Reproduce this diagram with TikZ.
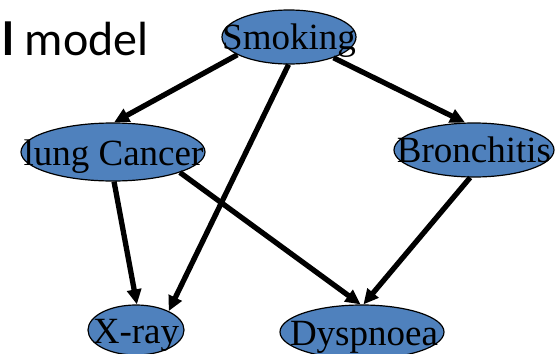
\documentclass[tikz,border=0pt]{standalone}
\usepackage{fontspec}
\setmainfont{Liberation Serif}
\newfontfamily\slidefont{Carlito}
\usetikzlibrary{shapes.geometric,arrows.meta}
\definecolor{nodeblue}{RGB}{79,129,189}
\begin{document}
\begin{tikzpicture}[x=1pt,y=-1pt,
  var/.style={ellipse,draw=black,line width=1.2pt,fill=nodeblue,inner sep=0pt},
  lbl/.style={anchor=base,inner sep=0pt,font=\fontsize{37}{40}\selectfont},
  edge/.style={line width=5.3pt,-{Triangle[length=15pt,width=14pt]}}]
\useasboundingbox (0,0) rectangle (558,354);
\clip (0,0) rectangle (558,354);

% title fragment
\node[anchor=base west,inner sep=0pt,font=\slidefont\fontsize{48}{52}\selectfont] (title) at (2,55) {\textbf{l} model};

% variables
\node[var,minimum width=134pt,minimum height=54pt] (smk) at (289,37) {};
\node[var,minimum width=184pt,minimum height=58pt] (lung) at (113,152) {};
\node[var,minimum width=160pt,minimum height=54pt] (bron) at (474,150) {};
\node[var,minimum width=96pt,minimum height=50pt] (xray) at (136,330) {};
\node[var,minimum width=164pt,minimum height=54pt] (dysp) at (362,332) {};

% dependencies
\draw[edge] (smk.199) -- (lung.88);
\draw[edge] (smk.269) -- (xray.30);
\draw[edge] (smk.335) -- (bron.108);
\draw[edge] (lung.272) -- (xray.88);
\draw[edge] (lung.343) -- (dysp.93);
\draw[edge] (bron.262) -- (dysp.87);

% labels
\node[lbl] (smkT) at (289,49) {Smoking};
\node[lbl] (lungT) at (113.5,165) {lung Cancer};
\node[lbl] (bronT) at (474,162) {Bronchitis};
\node[lbl] (xrayT) at (136,343) {X-ray};
\node[lbl] (dyspT) at (364,345) {Dyspnoea};
\end{tikzpicture}
\end{document}
